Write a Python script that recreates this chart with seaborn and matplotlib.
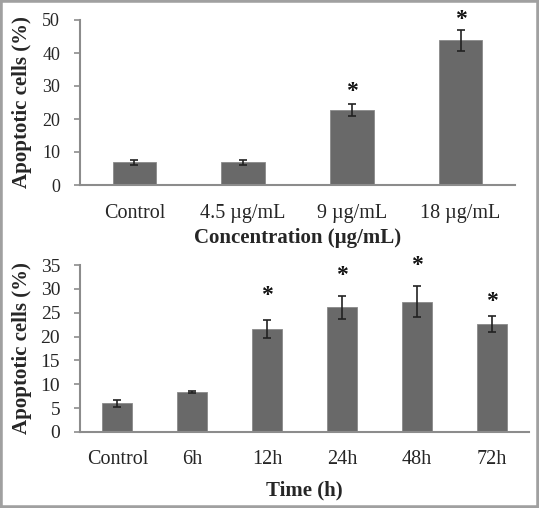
import seaborn as sns
import matplotlib.pyplot as plt
from matplotlib.patches import Rectangle

# top panel: concentration
conc_labels = ["Control", "4.5 \u00b5g/mL", "9 \u00b5g/mL", "18 \u00b5g/mL"]
conc_vals = [6.9, 6.9, 22.7, 43.8]
conc_err = [0.7, 0.8, 1.7, 3.3]
conc_star = [None, None, 29.6, 51.3]

# bottom panel: time
time_labels = ["Control", "6h", "12h", "24h", "48h", "72h"]
time_vals = [6.0, 8.4, 21.6, 26.1, 27.3, 22.6]
time_err = [0.7, 0.15, 1.8, 2.5, 3.2, 1.7]
time_star = [None, None, 29.4, 33.6, 35.7, 28.3]

sns.set_style("white")
plt.rcParams['font.family'] = ['Liberation Serif', 'DejaVu Serif']

W, H = 539, 508
fig = plt.figure(figsize=(W / 100, H / 100), dpi=100)

BAR = "#696969"
AXC = "#8c8c8c"


def panel(rect, labels, vals, errs, stars, ymax, ystep, xlabel, ytick_size,
          ylab_x, xpad, xlabpad):
    l, t, r, b = rect
    ax = fig.add_axes([l / W, 1 - b / H, (r - l) / W, (b - t) / H])
    sns.barplot(x=labels, y=vals, color=BAR, width=0.4, saturation=1,
                edgecolor="#8a8a8a", linewidth=0.6, ax=ax)
    ax.errorbar(range(len(vals)), vals, yerr=errs, fmt="none",
                ecolor="#222222", elinewidth=1.2, capsize=3, capthick=1.2)
    for i, s in enumerate(stars):
        if s is not None:
            ax.annotate("*", (i, s), xytext=(0, -3), textcoords="offset points",
                        ha="center", va="center", fontsize=17,
                        fontweight="bold", color="#111111",
                        annotation_clip=False)
    ax.set_ylim(0, ymax)
    ax.set_xlim(-0.5, len(vals) - 0.5)
    ax.set_yticks(range(0, ymax + 1, ystep))
    for side in ["top", "right"]:
        ax.spines[side].set_visible(False)
    for side in ["left", "bottom"]:
        ax.spines[side].set_color(AXC)
        ax.spines[side].set_linewidth(1.5)
    ax.tick_params(axis="y", length=4.3, width=1.2, color=AXC, pad=10,
                   labelsize=ytick_size, left=True)
    ax.tick_params(axis="x", length=0, pad=xpad, labelsize=14.5)
    ax.set_xlabel(xlabel, fontsize=15, fontweight="bold", labelpad=xlabpad)
    ax.set_ylabel("Apoptotic cells (%)", fontsize=15, fontweight="bold")
    ax.yaxis.set_label_coords(ylab_x / W, 1 - ((t + b) / 2) / H,
                              transform=fig.transFigure)
    return ax


panel((80, 20, 515, 185), conc_labels, conc_vals, conc_err, conc_star,
      50, 10, "Concentration (\u00b5g/mL)", 13, 32, 14, 3)
panel((80, 265, 529, 432), time_labels, time_vals, time_err, time_star,
      35, 5, "Time (h)", 14, 32, 13, 8)

fig.patches.append(Rectangle((0, 0), 1, 1, transform=fig.transFigure,
                             fill=False, edgecolor="#a0a0a0", linewidth=4))

fig.savefig("out.png", dpi=100)
